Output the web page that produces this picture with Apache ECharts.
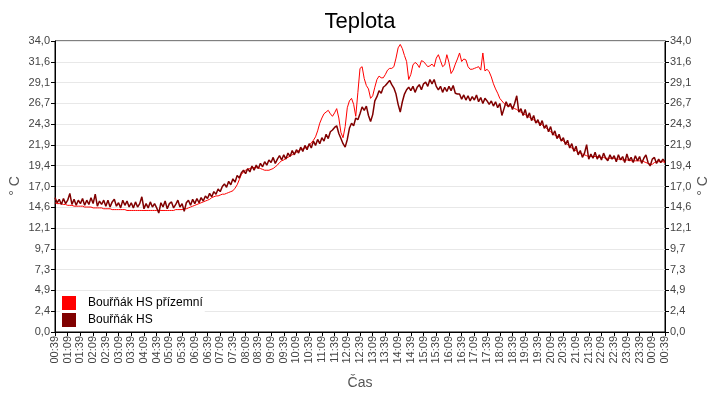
<!DOCTYPE html>
<html>
<head>
<meta charset="utf-8">
<title>Teplota</title>
<script src="https://cdn.jsdelivr.net/npm/echarts@6/dist/echarts.min.js"></script>
<style>
  html, body { margin: 0; padding: 0; background: #fff; }
  #main { width: 720px; height: 400px; }
</style>
</head>
<body>
<div id="main"></div>
<script>
// one sample every 5 minutes, starting 00:39
const STEP_MIN = 5;

const tickLabels = ['00:39','01:09','01:39','02:09','02:39','03:09','03:39','04:09','04:39','05:09',
  '05:39','06:09','06:39','07:09','07:39','08:09','08:39','09:09','09:39','10:09','10:39','11:09',
  '11:39','12:09','12:39','13:09','13:39','14:09','14:39','15:09','15:39','16:09','16:39','17:09',
  '17:39','18:09','18:39','19:09','19:39','20:09','20:39','21:09','21:39','22:09','22:39','23:09',
  '23:39','00:09','00:39'];

const seriesNames = ['Bouřňák HS přízemní', 'Bouřňák HS'];
const unitName = '° C';

// Bouřňák HS přízemní
const prizemni = [
  15.1,15.0,15.0,15.0,14.9,14.9,14.8,14.8,14.8,14.7,14.7,14.7,
  14.7,14.7,14.6,14.6,14.6,14.6,14.5,14.5,14.5,14.5,14.5,14.4,
  14.4,14.4,14.4,14.3,14.3,14.3,14.3,14.3,14.3,14.3,14.2,14.2,
  14.2,14.2,14.2,14.2,14.2,14.2,14.2,14.2,14.2,14.2,14.2,14.2,
  14.2,14.2,14.2,14.2,14.2,14.2,14.2,14.2,14.2,14.3,14.3,14.3,
  14.3,14.4,14.4,14.5,14.6,14.7,14.8,14.9,15.0,15.1,15.2,15.3,
  15.4,15.5,15.7,15.8,15.9,15.9,16.0,16.1,16.1,16.2,16.3,16.4,
  16.5,16.8,17.2,17.8,18.4,18.7,18.9,19.0,19.1,19.2,19.2,19.2,
  19.2,19.1,19.0,18.9,18.9,18.9,19.0,19.1,19.3,19.5,19.8,20.0,
  20.1,20.3,20.4,20.6,20.7,20.9,21.0,21.2,21.3,21.4,21.5,21.6,
  21.8,22.1,22.4,22.8,23.5,24.4,25.0,25.5,25.7,25.9,25.5,25.2,
  25.6,26.1,25.0,23.3,22.7,24.0,26.2,27.0,27.3,26.6,25.2,28.0,
  30.8,31.0,29.6,28.8,28.4,27.3,27.6,28.6,29.5,29.9,29.7,29.7,
  30.1,30.6,30.8,30.8,31.0,32.0,33.2,33.6,33.1,32.3,31.6,29.5,
  30.1,31.2,31.5,31.3,30.9,31.7,31.6,31.3,31.0,31.1,31.3,31.0,
  32.0,32.4,31.7,31.0,31.2,32.4,31.5,30.2,30.6,31.3,31.9,32.6,
  31.6,31.9,31.8,31.0,30.7,30.7,30.8,30.9,31.0,30.6,32.6,30.5,
  30.7,30.4,29.8,29.0,28.4,27.9,27.3,27.0,26.7,26.5,26.4,26.4,
  26.3,26.1,26.0,25.8,25.7,25.5,25.4,25.2,25.1,24.9,24.8,24.6,
  24.5,24.4,24.2,24.0,23.8,23.6,23.4,23.2,23.0,22.9,22.7,22.5,
  22.3,22.1,21.9,21.7,21.5,21.3,21.2,21.0,20.9,20.8,20.7,20.6,
  20.5,20.5,20.5,20.5,20.5,20.4,20.4,20.4,20.3,20.3,20.3,20.3,
  20.3,20.2,20.2,20.2,20.1,20.1,20.1,20.1,20.0,20.0,20.0,20.0,
  20.0,20.0,19.9,19.8,19.7,19.6,19.6,19.8,19.9,19.9,19.9,19.9,
  19.8
];

// Bouřňák HS
const hs = [
  15.7,15.1,15.5,14.9,15.6,15.0,15.4,16.2,14.9,15.5,14.8,15.4,
  15.0,15.6,14.8,15.4,14.9,15.7,15.0,16.1,14.7,15.3,14.9,15.4,
  14.7,15.4,14.6,15.2,15.5,14.7,15.1,14.5,15.4,14.8,15.3,14.6,
  15.1,14.5,15.2,14.6,15.0,15.8,14.4,15.0,14.5,15.2,14.6,15.0,
  14.5,13.9,15.1,14.6,15.3,14.4,15.0,15.2,14.5,14.9,15.4,14.6,
  15.0,14.1,15.1,15.4,14.8,15.5,15.0,15.6,15.1,15.7,15.3,15.9,
  15.6,16.2,15.8,16.4,16.1,16.7,16.4,17.0,17.3,16.9,17.6,17.2,
  17.9,17.5,18.3,18.0,18.6,18.9,18.5,19.1,18.7,19.4,18.9,19.5,
  19.1,19.7,19.3,19.9,19.5,20.1,19.8,20.4,19.7,20.2,20.6,20.1,
  20.7,20.2,20.9,20.5,21.2,20.7,21.3,20.9,21.6,21.1,21.8,21.3,
  22.0,21.5,22.3,21.8,22.5,22.0,22.7,22.3,23.1,22.6,23.4,23.6,
  23.9,24.1,23.2,22.6,22.0,21.6,22.5,23.8,24.4,24.1,25.0,24.8,
  25.5,26.3,25.9,26.4,25.3,24.6,25.4,27.0,27.5,28.2,27.9,28.6,
  28.8,29.1,29.4,28.9,28.5,27.8,26.6,25.7,26.9,27.8,28.3,28.6,
  28.2,28.7,28.0,28.6,28.9,28.3,29.0,29.2,28.7,29.5,29.0,29.5,
  28.7,28.3,28.7,28.0,28.6,28.1,28.7,28.2,28.8,27.9,27.8,27.8,
  27.2,27.7,27.1,27.6,27.0,27.5,27.1,27.7,26.9,27.4,26.7,27.3,
  27.0,26.6,27.0,26.4,26.9,26.2,26.7,25.3,26.1,26.9,26.3,26.7,
  26.0,26.7,27.6,25.7,26.1,25.3,26.0,25.0,25.6,24.7,25.3,24.4,
  24.8,24.1,24.7,23.8,24.2,23.4,24.0,23.0,23.5,22.6,23.1,22.3,
  22.7,21.9,22.4,21.5,22.0,21.1,21.7,20.7,21.2,20.4,20.9,21.9,
  20.2,20.8,20.3,21.0,20.2,20.7,20.1,20.9,20.3,20.0,20.7,20.2,
  20.6,19.9,20.7,20.1,20.5,19.8,20.8,20.0,20.4,19.8,20.6,20.0,
  20.5,19.7,20.3,20.7,19.8,19.4,20.2,20.4,19.7,20.2,19.8,20.2,
  19.9
];

const Y_MAX = 34;
const Y_STEPS = 14;

function toPoints(values){
  return values.map((v, i) => [i * STEP_MIN, v]);
}

const fontFam = '"Liberation Sans", Arial, sans-serif';
const fmtY = (v) => v.toFixed(1).replace('.', ',');

function yAxisCfg(pos){
  return {
    type: 'value',
    position: pos,
    min: 0,
    max: Y_MAX,
    interval: Y_MAX / Y_STEPS,
    axisLine: { show: true, lineStyle: { color: '#000', width: 1 } },
    axisTick: { show: true, length: 4, lineStyle: { color: '#000' } },
    axisLabel: { color: '#444', fontSize: 11, fontFamily: fontFam, margin: 5, formatter: fmtY },
    splitLine: { show: pos === 'left', lineStyle: { color: '#e8e8e8', width: 1 } }
  };
}

// rotated unit captions beside both y axes
function unitCaption(x){
  return {
    type: 'text',
    x: x,
    y: 186,
    rotation: Math.PI / 2,
    style: {
      text: unitName, fill: '#555', fontSize: 14, fontFamily: fontFam,
      align: 'center', verticalAlign: 'middle'
    }
  };
}

const chart = echarts.init(document.getElementById('main'), null, { renderer: 'canvas' });
chart.setOption({
  animation: false,
  backgroundColor: '#fff',
  title: {
    text: 'Teplota',
    left: 'center',
    top: 6,
    textStyle: { color: '#000', fontSize: 22, fontWeight: 'normal', fontFamily: fontFam }
  },
  grid: {
    left: 55, right: 55, top: 41, bottom: 68,
    containLabel: false,
    outerBoundsMode: 'none',
    show: true, borderColor: '#000', borderWidth: 1
  },
  graphic: [unitCaption(15), unitCaption(703)],
  legend: {
    data: seriesNames,
    orient: 'vertical',
    left: 60,
    top: 294,
    itemWidth: 14,
    itemHeight: 14,
    itemGap: 3,
    icon: 'rect',
    padding: [2, 2, 2, 2],
    backgroundColor: '#fff',
    textStyle: { color: '#000', fontSize: 12, fontFamily: fontFam, padding: [0, 0, 0, 7] }
  },
  xAxis: {
    type: 'value',
    min: 0,
    max: (tickLabels.length - 1) * 30,
    interval: 30,
    name: 'Čas',
    nameLocation: 'middle',
    nameGap: 44,
    nameTextStyle: { color: '#555', fontSize: 14, fontFamily: fontFam },
    axisLine: { show: true, lineStyle: { color: '#000' } },
    axisTick: { show: true, length: 4, lineStyle: { color: '#000' } },
    axisLabel: {
      rotate: 90, color: '#444', fontSize: 11, fontFamily: fontFam, margin: 4,
      formatter: (v) => tickLabels[Math.round(v / 30)]
    },
    splitLine: { show: false }
  },
  yAxis: [yAxisCfg('left'), yAxisCfg('right')],
  series: [
    {
      name: seriesNames[0],
      type: 'line',
      yAxisIndex: 0,
      data: toPoints(prizemni),
      showSymbol: false,
      color: '#ff0000',
      lineStyle: { color: '#ff0000', width: 1 }
    },
    {
      name: seriesNames[1],
      type: 'line',
      yAxisIndex: 0,
      data: toPoints(hs),
      showSymbol: false,
      color: '#800000',
      lineStyle: { color: '#800000', width: 1.5 }
    }
  ]
});
</script>
</body>
</html>
